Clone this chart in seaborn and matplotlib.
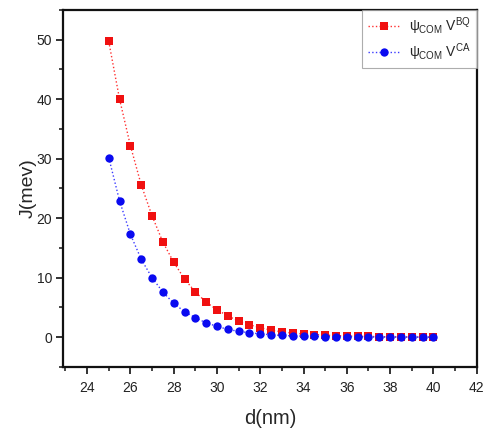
import matplotlib
matplotlib.use("Agg")
import matplotlib.pyplot as plt
import seaborn as sns
import pandas as pd
from matplotlib.ticker import MultipleLocator

# Separation d (nm) and exchange coupling J (meV) for the two potentials
d_nm = [25.0, 25.5, 26.0, 26.5, 27.0, 27.5, 28.0, 28.5, 29.0, 29.5, 30.0,
        30.5, 31.0, 31.5, 32.0, 32.5, 33.0, 33.5, 34.0, 34.5, 35.0, 35.5,
        36.0, 36.5, 37.0, 37.5, 38.0, 38.5, 39.0, 39.5, 40.0]
j_bq = [49.7, 40.0, 32.2, 25.6, 20.4, 16.0, 12.6, 9.8, 7.6, 5.9, 4.6,
        3.6, 2.7, 2.1, 1.6, 1.2, 0.9, 0.7, 0.55, 0.45, 0.35, 0.28,
        0.22, 0.17, 0.13, 0.10, 0.08, 0.06, 0.05, 0.04, 0.03]
j_ca = [30.2, 22.9, 17.3, 13.1, 10.0, 7.6, 5.7, 4.3, 3.3, 2.4, 1.85,
        1.3, 1.0, 0.75, 0.56, 0.42, 0.30, 0.23, 0.17, 0.13, 0.10, 0.08,
        0.06, 0.05, 0.04, 0.03, 0.02, 0.02, 0.01, 0.01, 0.01]
labels = [r"$\psi_{\mathrm{COM}}\ \mathrm{V}^{\mathrm{BQ}}$",
          r"$\psi_{\mathrm{COM}}\ \mathrm{V}^{\mathrm{CA}}$"]

sns.set_style("ticks")
plt.rcParams["font.family"] = ["Liberation Sans", "DejaVu Sans"]
plt.rcParams["mathtext.fontset"] = "custom"
plt.rcParams["mathtext.rm"] = "Liberation Sans"
plt.rcParams["mathtext.it"] = "Liberation Sans"

df = pd.DataFrame({"d": d_nm, "bq": j_bq, "ca": j_ca})

fig = plt.figure(figsize=(4.91, 4.32), dpi=100)
ax = fig.add_axes([0.1289, 0.1505, 0.9709 - 0.1289, 0.977 - 0.1505])

sns.lineplot(data=df, x="d", y="bq", ax=ax, color="#ff3030", linestyle=":",
             linewidth=1.0, marker="s", markersize=5.2, markeredgewidth=0,
             markerfacecolor="#f01010", label=labels[0])
sns.lineplot(data=df, x="d", y="ca", ax=ax, color="#3a3aff", linestyle=":",
             linewidth=1.0, marker="o", markersize=6.0, markeredgewidth=0,
             markerfacecolor="#0a0af0", label=labels[1])

ax.set_xlim(22.9, 42.0)
ax.set_ylim(-5.0, 55.0)
ax.xaxis.set_major_locator(MultipleLocator(2))
ax.xaxis.set_minor_locator(MultipleLocator(1))
ax.yaxis.set_major_locator(MultipleLocator(10))
ax.yaxis.set_minor_locator(MultipleLocator(5))
ax.tick_params(which="major", direction="out", length=5, width=1.3,
               labelsize=10, colors="#222222")
ax.tick_params(axis="x", which="major", pad=5)
ax.tick_params(axis="y", which="major", pad=3)
ax.tick_params(which="minor", direction="out", length=3, width=1.2)

for side in ["left", "right", "top", "bottom"]:
    ax.spines[side].set_visible(True)
    ax.spines[side].set_linewidth(1.6)
    ax.spines[side].set_color("#111111")

ax.set_xlabel("d(nm)", fontsize=14.5, labelpad=10)
ax.set_ylabel("J(mev)", fontsize=14, labelpad=0)

leg = ax.legend(loc="upper right", borderaxespad=0.0, fontsize=10,
                fancybox=False, frameon=True, handlelength=2.4,
                handletextpad=0.6, borderpad=0.4, labelspacing=0.3)
leg.get_frame().set_edgecolor("#999999")
leg.get_frame().set_linewidth(0.8)

fig.savefig("out.png", dpi=100)
